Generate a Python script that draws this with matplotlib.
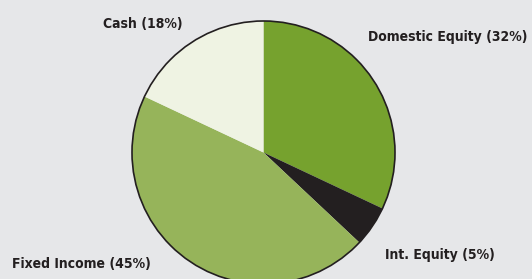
import matplotlib.pyplot as plt
from matplotlib.patches import Circle

# Asset allocation values (percent)
labels = ['Domestic Equity', 'Int. Equity', 'Fixed Income', 'Cash']
shares = [32, 5, 45, 18]
colors = ['#76a22e', '#231f20', '#96b45a', '#eff3e3']

# label anchor points in pixel coordinates (left edge, vertical center)
label_px = [(368, 36.5), (385, 255), (12, 264), (103, 23.5)]

W, H = 532, 279
cx, cy, r = 263.5, 152.5, 131.5

fig = plt.figure(figsize=(W / 100, H / 100), dpi=100)
fig.patch.set_facecolor('#e6e7e9')
ax = fig.add_axes([0, 0, 1, 1])
ax.set_facecolor('#e6e7e9')

ax.pie(shares, colors=colors, startangle=90, counterclock=False,
       radius=1, center=(0, 0), wedgeprops=dict(linewidth=0))
ax.add_patch(Circle((0, 0), 1, fill=False, edgecolor='#231f20', linewidth=1.2))

ax.set_xlim(-cx / r, (W - cx) / r)
ax.set_ylim(-(H - cy) / r, cy / r)
ax.set_aspect('equal')
ax.axis('off')

for lab, val, (px, py) in zip(labels, shares, label_px):
    ax.text((px - cx) / r, (cy - py) / r, f'{lab} ({val}%)',
            ha='left', va='center', fontsize=10, fontweight='bold',
            family='DejaVu Sans', stretch='condensed', color='#231f20')

plt.savefig('out.png', dpi=100, facecolor=fig.get_facecolor())
